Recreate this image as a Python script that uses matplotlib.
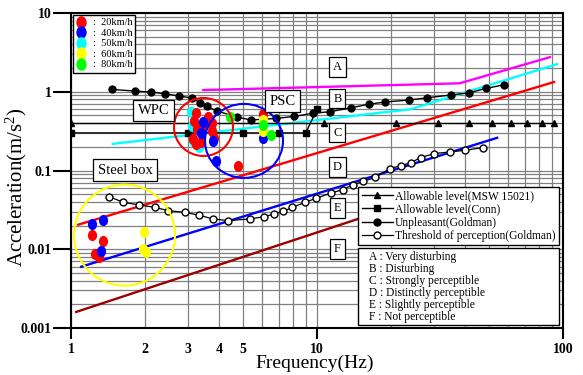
import numpy as np
import matplotlib
matplotlib.use('Agg')
import matplotlib.pyplot as plt
from matplotlib.patches import Ellipse, Rectangle
from matplotlib.path import Path
from matplotlib.transforms import Affine2D

plt.rcParams['font.family'] = ['Liberation Serif', 'DejaVu Serif']
plt.rcParams['mathtext.fontset'] = 'custom'
plt.rcParams['mathtext.rm'] = 'Liberation Serif'
plt.rcParams['mathtext.it'] = 'Liberation Serif:italic'

# ---------------- data ----------------
# measured responses by vehicle speed (frequency Hz, acceleration m/s^2)
f_20 = [3.22, 3.16, 3.25, 3.13, 3.22, 3.38, 3.47, 3.74, 3.74, 3.81, 3.61, 4.77, 6.05, 1.214, 1.345, 1.252, 1.303]
a_20 = [0.537, 0.426, 0.337, 0.252, 0.218, 0.231, 0.379, 0.402, 0.318, 0.259, 0.478, 0.113, 0.517, 0.0152, 0.0129, 0.00875, 0.00792]
f_40 = [3.44, 3.38, 3.79, 3.87, 6.05, 1.214, 1.353, 1.324]
a_40 = [0.413, 0.300, 0.238, 0.131, 0.256, 0.0210, 0.0236, 0.00944]
f_50 = [3.07, 3.10, 3.13, 3.31]
a_50 = [0.55, 0.37, 0.24, 0.20]
f_60 = [6.05, 6.05, 1.98, 1.967, 2.018]
a_60 = [0.438, 0.313, 0.01675, 0.0101, 0.00917]
f_80 = [4.43, 6.05, 6.48]
a_80 = [0.478, 0.376, 0.279]
speed_labels = [':  20km/h', ':  40km/h', ':  50km/h', ':  60km/h', ':  80km/h']

# perception boundary lines
A_f = [3.45, 38, 88.5]
A_a = [1.05, 1.28, 2.75]
B_f = [1.48, 24, 94.6]
B_a = [0.218, 0.6, 2.24]
C_f = [1.07, 92]
C_a = [0.0205, 1.33]
D_f = [1.1, 54]
D_a = [0.006, 0.26]
E_f = [1.05, 25]
E_a = [0.0016, 0.042]

# criteria curves
msw_f = [1, 10.7, 21, 31, 41.5, 51.5, 61.5, 71.5, 82, 92]
msw_a = [0.4] * 10
conn_f = [1, 3, 5, 7, 9, 10]
conn_a = [0.3, 0.3, 0.3, 0.3, 0.3, 0.6]
unp_f = [1.468, 1.82, 2.11, 2.41, 2.76, 3.10, 3.35, 3.57, 3.92, 4.73, 5.37, 6.81, 8.03,
         9.63, 11.3, 13.8, 16.2, 18.9, 23.7, 28.1, 34.9, 41.6, 48.6, 57.7]
unp_a = [1.07, 1.02, 0.99, 0.943, 0.882, 0.832, 0.726, 0.650, 0.570, 0.478, 0.438, 0.458, 0.485,
         0.533, 0.558, 0.627, 0.693, 0.741, 0.785, 0.84, 0.908, 0.971, 1.10, 1.23]
thr_f = [1.431, 1.632, 1.895, 2.195, 2.486, 2.907, 3.31, 3.77, 4.36, 5.34, 6.11, 6.69, 7.30, 7.94,
         8.94, 9.88, 11.4, 12.7, 14.0, 15.4, 17.2, 19.8, 21.9, 24.1, 26.4, 29.9, 34.7, 40.0, 47.2]
thr_a = [0.0465, 0.0394, 0.0365, 0.0340, 0.0309, 0.0294, 0.0271, 0.0243, 0.0231, 0.0243, 0.0259,
         0.0281, 0.0303, 0.0340, 0.0394, 0.0442, 0.0518, 0.0570, 0.0659, 0.0726, 0.0815, 0.106,
         0.115, 0.126, 0.146, 0.164, 0.172, 0.181, 0.195]

zone_letters = ['A', 'B', 'C', 'D', 'E', 'F']
zone_desc = ['Very disturbing', 'Disturbing', 'Strongly perceptible', 'Distinctly perceptible',
             'Slightly perceptible', 'Not perceptible']
zone_y = [2.07, 0.815, 0.303, 0.111, 0.0334, 0.0101]
zone_x = 12.1

x_major = [1, 10, 100]
x_minor_lab = {2: '2', 3: '3', 4: '4', 5: '5'}
y_major = [0.001, 0.01, 0.1, 1, 10]
y_major_lab = ['0.001', '0.01', '0.1', '1', '10']

# ---------------- figure ----------------
fig = plt.figure(figsize=(5.83, 3.75), dpi=100)
ax = fig.add_axes([71 / 583, 1 - 328 / 375, 492 / 583, 315 / 375])
ax.set_xscale('log')
ax.set_yscale('log')
ax.set_xlim(1, 100)
ax.set_ylim(0.001, 10)

minor_x = [m * d for d in (1, 10) for m in range(2, 10)]
minor_y = [m * d for d in (0.001, 0.01, 0.1, 1) for m in range(2, 10)]
ax.set_xticks(x_major, labels=[str(v) for v in x_major], fontweight='bold', fontsize=10)
ax.set_xticks(minor_x, labels=[x_minor_lab.get(v, '') for v in minor_x], minor=True,
              fontweight='bold', fontsize=10)
ax.set_yticks(y_major, labels=y_major_lab, fontweight='bold', fontsize=10)
ax.set_yticks(minor_y, labels=['' for _ in minor_y], minor=True)
ax.tick_params(axis='x', which='major', direction='out', length=8, width=1.5, pad=2.5)
ax.tick_params(axis='x', which='minor', length=0, pad=10.5)
ax.tick_params(axis='y', which='major', direction='out', length=13, width=1.5, pad=1)
ax.tick_params(axis='y', which='minor', length=0)
for s in ax.spines.values():
    s.set_linewidth(1.5)

ax.grid(True, which='both', color='#808080', lw=0.9)
ax.set_axisbelow(True)

# boundary lines
ax.plot(A_f, A_a, color='#ff00ff', lw=1.7, zorder=2)
ax.plot(B_f, B_a, color='#00ffff', lw=1.7, zorder=2)
ax.plot(C_f, C_a, color='#ff0000', lw=1.7, zorder=2)
ax.plot(D_f, D_a, color='#0000ff', lw=1.7, zorder=2)
ax.plot(E_f, E_a, color='#990000', lw=1.7, zorder=2)

# criteria
ax.plot(msw_f, msw_a, color='black', lw=1.0, marker='^', ms=5, zorder=3,
        label='Allowable level(MSW 15021)')
ax.plot(conn_f, conn_a, color='black', lw=1.0, marker='s', ms=4.5, zorder=3,
        label='Allowable level(Conn)')
ax.plot(unp_f, unp_a, color='black', lw=1.0, marker='o', ms=5, zorder=3,
        label='Unpleasant(Goldman)')
ax.plot(thr_f, thr_a, color='black', lw=0.9, marker='o', ms=5, mfc='white', zorder=3,
        label='Threshold of perception(Goldman)')

# scatter measurements
circ = Path.unit_circle()
ell_marker = circ.transformed(Affine2D().scale(0.8, 1.0))
speed_colors = ['#ff0000', '#0000ff', '#00ffff', '#ffff00', '#00ff00']
order = [2, 0, 1, 3, 4]
series = [(f_20, a_20), (f_40, a_40), (f_50, a_50), (f_60, a_60), (f_80, a_80)]
handles1 = [None] * 5
for i in order:
    f, a = series[i]
    h, = ax.plot(f, a, linestyle='none', marker=ell_marker, ms=7, color=speed_colors[i],
                 mec=speed_colors[i], zorder=4, label=speed_labels[i])
    handles1[i] = h

# group circles (axes fraction from data centres)
def axfrac(f, a):
    return np.log10(f) / 2.0, (np.log10(a) + 3) / 4.0

for (cf, ca, w, h, c) in [(3.456, 0.357, 59 / 492, 58 / 315, '#ff0000'),
                           (5.05, 0.2377, 78 / 492, 74 / 315, '#0000ff'),
                           (1.65, 0.01513, 101 / 492, 101 / 315, '#ffff00')]:
    cx, cy = axfrac(cf, ca)
    ax.add_patch(Ellipse((cx, cy), w, h, transform=ax.transAxes, fill=False, ec=c, lw=1.5,
                         zorder=5))

box = dict(boxstyle='square,pad=0.3', fc='white', ec='black', lw=0.9)
for lt, y in zip(zone_letters, zone_y):
    ax.text(zone_x, y, lt, ha='center', va='center', fontsize=9, bbox=box, zorder=6)

box2 = dict(boxstyle='square,pad=0.3', fc='white', ec='black', lw=0.9)
ax.text(2.165, 0.578, 'WPC', ha='center', va='center', fontsize=10.5, bbox=box2, zorder=6)
ax.text(7.24, 0.762, 'PSC', ha='center', va='center', fontsize=10.5, bbox=box2, zorder=6)
ax.text(1.658, 0.1006, 'Steel box', ha='center', va='center', fontsize=10.5, bbox=box2, zorder=6)

# legends
leg1 = ax.legend(handles=handles1, loc='upper left', bbox_to_anchor=(0.0035, 0.994),
                 borderaxespad=0, fontsize=7.5, frameon=True, fancybox=False, edgecolor='black',
                 framealpha=1, handlelength=1.0, handletextpad=0.6, labelspacing=0.12,
                 borderpad=0.3, markerscale=1.15)
leg1.get_frame().set_linewidth(1.0)
leg1.set_zorder(10)
ax.add_artist(leg1)

h2, l2 = ax.get_legend_handles_labels()
idx = [l2.index(n) for n in ['Allowable level(MSW 15021)', 'Allowable level(Conn)',
                             'Unpleasant(Goldman)', 'Threshold of perception(Goldman)']]
leg2 = ax.legend([h2[i] for i in idx], [l2[i] for i in idx], loc='upper right',
                 bbox_to_anchor=(0.992, 0.448), borderaxespad=0, fontsize=8.3, frameon=True,
                 fancybox=False, edgecolor='black', framealpha=1, handlelength=2.7,
                 handletextpad=0.2, labelspacing=0.1, borderpad=0.3, numpoints=1)
leg2.get_frame().set_linewidth(1.0)
leg2.set_zorder(10)

ax.add_patch(Rectangle((0.583, 0.0095), 0.409, 0.2445, transform=ax.transAxes, fc='white',
                       ec='black', lw=1.0, zorder=10))
top, step = 0.226, 0.0381
for k, (lt, d) in enumerate(zip(zone_letters, zone_desc)):
    ax.text(0.6057, top - k * step, f'{lt} : {d}', transform=ax.transAxes, ha='left',
            va='center', fontsize=8.3, zorder=11)

ax.set_xlabel('Frequency(Hz)', fontsize=14, va='center', ha='center')
ax.xaxis.set_label_coords(0.496, -0.113)
ax.set_ylabel('Acceleration(m/s$^2$)', fontsize=15, va='center', ha='center')
ax.yaxis.set_label_coords(-0.11, 0.448)

fig.savefig('out.png', dpi=100)
